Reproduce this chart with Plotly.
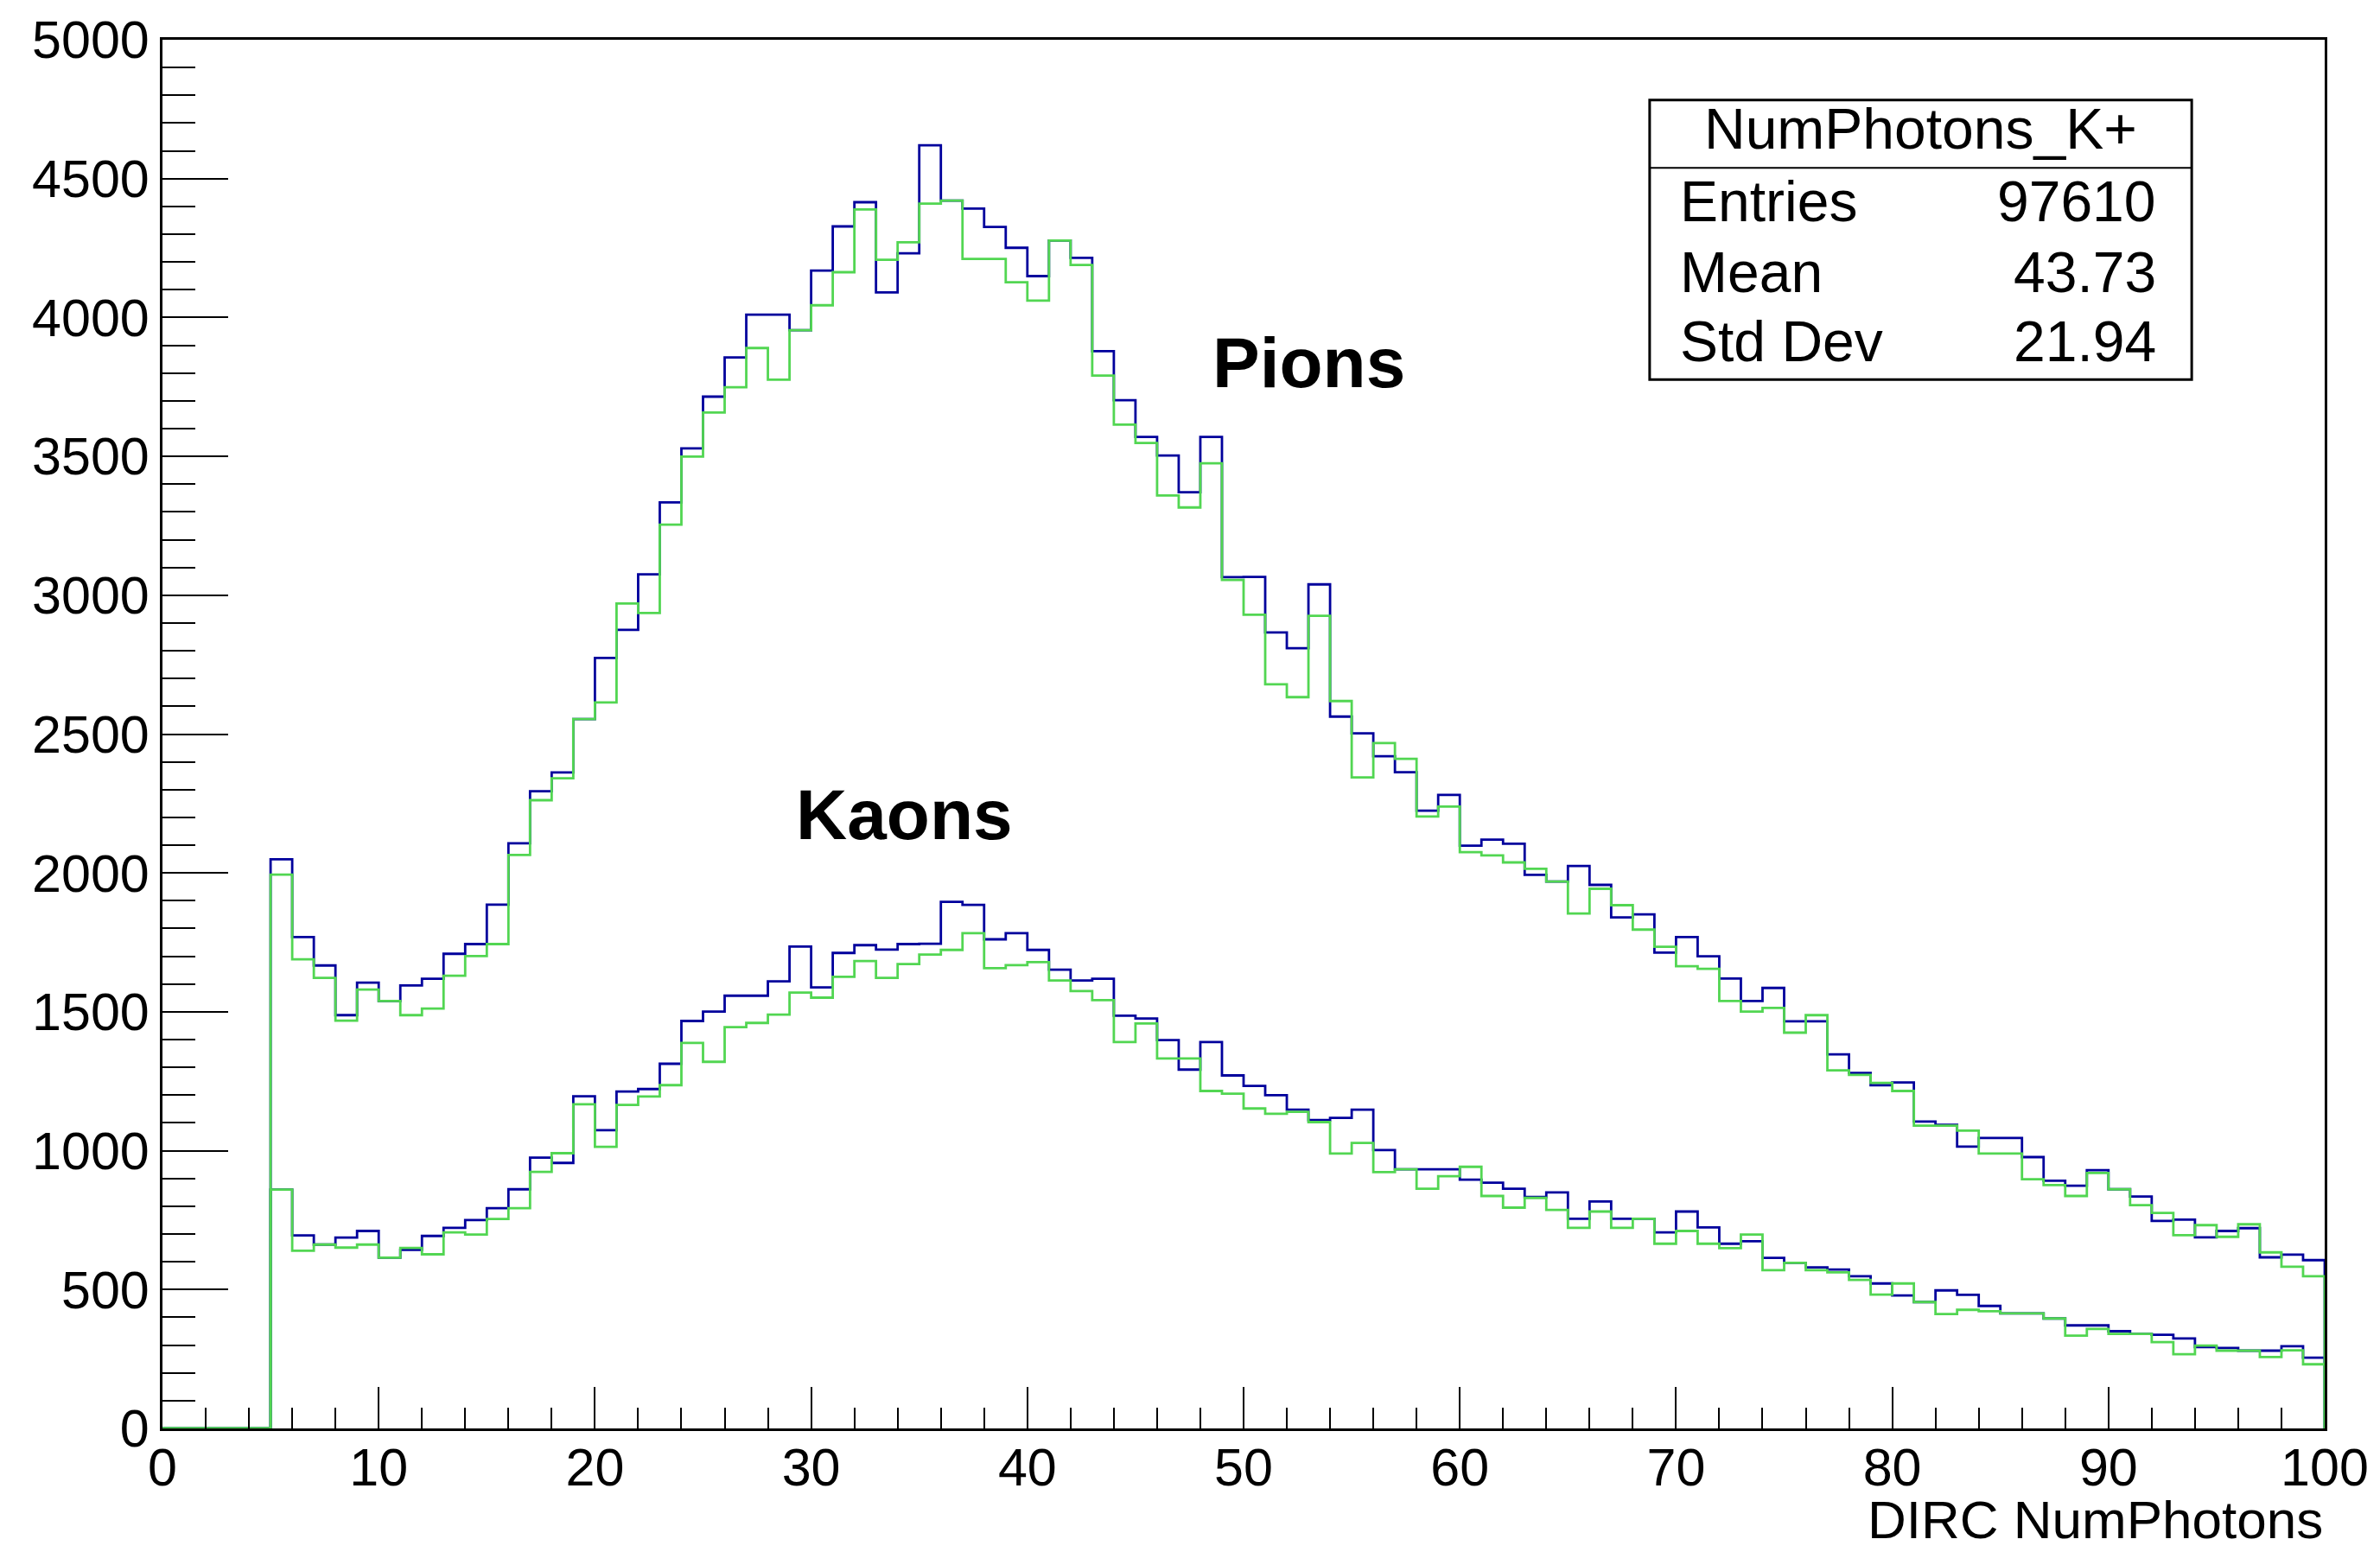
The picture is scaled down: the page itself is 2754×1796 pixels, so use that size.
import numpy as np
import plotly.graph_objects as go

# ---------------- data (bin contents, bins of width 1 from 5 to 100) ----------------
first_bin = 5
bin_edges = list(range(0, 101))

pion_blue = [2049, 1769, 1667, 1488, 1605, 1539, 1595, 1619, 1709, 1744,
             1886, 2107, 2294, 2362, 2554, 2774, 2875, 3075, 3334, 3529,
             3715, 3856, 4010, 4010, 3954, 4169, 4328, 4415, 4090, 4231,
             4620, 4421, 4392, 4326, 4251, 4149, 4277, 4215, 3879, 3702,
             3570, 3503, 3371, 3570, 3065, 3066, 2866, 2809, 3039, 2563,
             2503, 2420, 2363, 2224, 2281, 2098, 2120, 2105, 1993, 1969,
             2025, 1957, 1840, 1851, 1713, 1769, 1700, 1620, 1539, 1586,
             1466, 1466, 1347, 1280, 1236, 1246, 1105, 1093, 1015, 1046,
             1046, 977, 892, 874, 930, 861, 835, 747, 752, 688,
             711, 721, 616, 626, 606]

pion_green = [1994, 1689, 1622, 1468, 1580, 1539, 1488, 1512, 1630, 1701,
              1744, 2065, 2262, 2341, 2554, 2614, 2970, 2936, 3254, 3499,
              3658, 3749, 3890, 3776, 3954, 4044, 4163, 4389, 4208, 4271,
              4410, 4421, 4211, 4211, 4127, 4061, 4277, 4189, 3791, 3614,
              3548, 3359, 3316, 3475, 3055, 2930, 2679, 2633, 2926, 2619,
              2344, 2468, 2411, 2203, 2239, 2075, 2063, 2038, 2015, 1969,
              1854, 1943, 1884, 1796, 1734, 1664, 1655, 1539, 1501, 1514,
              1425, 1488, 1289, 1273, 1244, 1215, 1090, 1090, 1072, 990,
              990, 897, 876, 837, 920, 861, 804, 776, 696, 732,
              690, 735, 634, 582, 548]

kaon_blue = [860, 695, 662, 687, 711, 615, 643, 693, 722, 750,
             793, 861, 975, 956, 1196, 1074, 1213, 1222, 1313, 1467,
             1501, 1558, 1558, 1610, 1735, 1588, 1712, 1740, 1724, 1744,
             1745, 1896, 1885, 1761, 1783, 1723, 1652, 1613, 1619, 1486,
             1476, 1398, 1292, 1391, 1271, 1233, 1200, 1148, 1110, 1118,
             1148, 1002, 933, 933, 933, 896, 885, 863, 833, 850,
             755, 817, 755, 755, 706, 781, 724, 665, 674, 614,
             596, 580, 572, 548, 522, 479, 455, 497, 481, 441,
             414, 414, 396, 371, 371, 350, 340, 337, 324, 293,
             290, 280, 280, 296, 255]

kaon_green = [860, 640, 662, 651, 662, 615, 650, 627, 706, 698,
              754, 793, 924, 991, 1167, 1014, 1165, 1195, 1236, 1388,
              1320, 1445, 1460, 1490, 1569, 1551, 1626, 1683, 1622, 1672,
              1706, 1723, 1783, 1657, 1668, 1679, 1613, 1575, 1542, 1391,
              1458, 1332, 1332, 1215, 1205, 1152, 1133, 1140, 1103, 990,
              1028, 923, 933, 863, 908, 942, 837, 795, 830, 787,
              722, 781, 722, 755, 665, 711, 665, 649, 698, 570,
              596, 570, 562, 535, 482, 522, 455, 412, 427, 422,
              414, 414, 396, 334, 358, 340, 340, 311, 267, 298,
              280, 280, 257, 281, 231]

y_tick_vals = list(range(0, 5001, 500))
x_tick_vals = list(range(0, 101, 10))

stats_title = "NumPhotons_K+"
stats_labels = ["Entries", "Mean", "Std Dev"]
stats_values = ["97610", "43.73", "21.94"]

# ---------------- styling ----------------
BLUE = "#00009c"
GREEN = "#52d652"
FONT = "Liberation Sans, Arial, Helvetica, sans-serif"


def step_xy(values):
    contents = [0] * first_bin + list(values)
    xs = list(bin_edges) + [bin_edges[-1]]
    ys = contents + [contents[-1], 0]
    return xs, ys


fig = go.Figure()
for vals, col in [(pion_blue, BLUE), (kaon_blue, BLUE), (pion_green, GREEN), (kaon_green, GREEN)]:
    xs, ys = step_xy(vals)
    fig.add_trace(go.Scatter(x=xs, y=ys, mode="lines", line=dict(shape="hv", color=col, width=2.8),
                             showlegend=False, hoverinfo="skip"))

axis_common = dict(showgrid=False, zeroline=False, showline=True, mirror=True,
                   linecolor="black", linewidth=3, ticks="inside", tickcolor="black",
                   tickwidth=2, tickfont=dict(family=FONT, size=61, color="black"))

fig.update_xaxes(range=[0, 100], tickvals=x_tick_vals, ticktext=[str(v) for v in x_tick_vals],
                 ticklen=48, ticklabelstandoff=-10,
                 minor=dict(dtick=2, ticklen=24, tickwidth=2, tickcolor="black", ticks="inside", showgrid=False),
                 **axis_common)
fig.update_yaxes(range=[0, 5000], tickvals=y_tick_vals, ticktext=[str(v) for v in y_tick_vals],
                 ticklen=76,
                 minor=dict(dtick=100, ticklen=38, tickwidth=2, tickcolor="black", ticks="inside", showgrid=False),
                 **axis_common)

# x-axis title, right aligned
fig.add_annotation(text="DIRC NumPhotons", xref="paper", yref="paper", x=1.0, y=-0.0886,
                   xanchor="right", yanchor="bottom", showarrow=False,
                   font=dict(family=FONT, size=62, color="black"))

# labels on the curves
fig.add_annotation(text="<b>Pions</b>", xref="x", yref="y", x=53.0, y=3838, xanchor="center",
                   yanchor="middle", showarrow=False, font=dict(family=FONT, size=82, color="black"))
fig.add_annotation(text="<b>Kaons</b>", xref="x", yref="y", x=34.3, y=2212, xanchor="center",
                   yanchor="middle", showarrow=False, font=dict(family=FONT, size=82, color="black"))

# stats box
bx0, bx1, by0, by1, bdiv = 0.6878, 0.9385, 0.7553, 0.9566, 0.9077
fig.add_shape(type="rect", xref="paper", yref="paper", x0=bx0, x1=bx1, y0=by0, y1=by1,
              line=dict(color="black", width=3), fillcolor="white", layer="above")
fig.add_shape(type="line", xref="paper", yref="paper", x0=bx0, x1=bx1, y0=bdiv, y1=bdiv,
              line=dict(color="black", width=2), layer="above")
fig.add_annotation(text=stats_title, xref="paper", yref="paper", x=(bx0 + bx1) / 2, y=0.9356,
                   xanchor="center", yanchor="middle", showarrow=False,
                   font=dict(family=FONT, size=66, color="black"))
row_y = [0.8836, 0.8328, 0.7826]
for lab, val, yy in zip(stats_labels, stats_values, row_y):
    fig.add_annotation(text=lab, xref="paper", yref="paper", x=0.7010, y=yy, xanchor="left",
                       yanchor="middle", showarrow=False, font=dict(family=FONT, size=66, color="black"))
    fig.add_annotation(text=val, xref="paper", yref="paper", x=0.9229, y=yy, xanchor="right",
                       yanchor="middle", showarrow=False, font=dict(family=FONT, size=66, color="black"))

fig.update_layout(width=2754, height=1796, autosize=False,
                  margin=dict(l=188, r=64, t=39, b=143, pad=0),
                  plot_bgcolor="white", paper_bgcolor="white", showlegend=False)

fig.write_html("out.html")
